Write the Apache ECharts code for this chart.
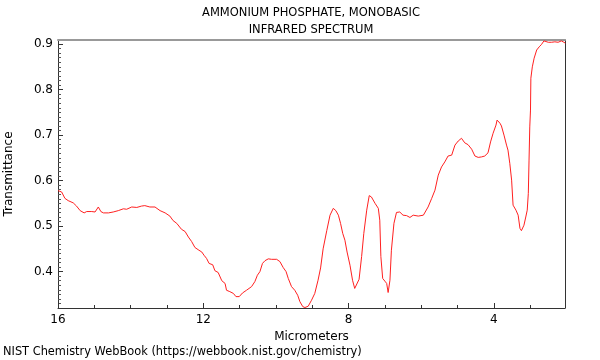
<!DOCTYPE html>
<html><head><meta charset="utf-8">
<script src="https://cdn.jsdelivr.net/npm/echarts@6/dist/echarts.min.js"></script>
<style>html,body{margin:0;padding:0;background:#fff}#c{width:600px;height:360px}</style>
</head><body><div id="c"></div>
<script>
const wavelength = [16.00,15.90,15.81,15.72,15.58,15.49,15.39,15.28,15.21,15.07,14.98,14.94,14.89,14.82,14.75,14.61,14.48,14.34,14.20,14.11,13.97,13.83,13.70,13.61,13.47,13.33,13.19,13.05,12.92,12.83,12.73,12.60,12.50,12.41,12.32,12.23,12.12,12.04,11.98,11.91,11.84,11.74,11.68,11.59,11.49,11.40,11.36,11.27,11.17,11.10,11.01,10.92,10.81,10.67,10.58,10.51,10.44,10.37,10.30,10.21,10.12,9.98,9.89,9.80,9.72,9.66,9.57,9.48,9.40,9.34,9.26,9.20,9.11,9.02,8.93,8.84,8.77,8.70,8.60,8.51,8.42,8.35,8.28,8.22,8.16,8.10,8.04,7.96,7.89,7.83,7.78,7.71,7.64,7.58,7.50,7.43,7.37,7.27,7.18,7.14,7.11,7.06,7.00,6.95,6.91,6.86,6.82,6.75,6.68,6.63,6.59,6.50,6.40,6.31,6.22,6.08,5.94,5.90,5.81,5.71,5.62,5.53,5.44,5.35,5.26,5.16,5.07,4.98,4.89,4.80,4.71,4.61,4.52,4.43,4.34,4.25,4.16,4.09,4.02,3.94,3.91,3.83,3.79,3.72,3.65,3.61,3.56,3.51,3.47,3.39,3.33,3.28,3.24,3.17,3.12,3.08,3.05,3.03,3.01,2.99,2.98,2.94,2.89,2.82,2.75,2.69,2.62,2.58,2.50,2.41,2.32,2.23,2.14,2.07,2.03];
const transmittance = [0.578,0.575,0.561,0.556,0.551,0.544,0.534,0.529,0.532,0.532,0.531,0.535,0.542,0.532,0.529,0.529,0.531,0.534,0.538,0.537,0.542,0.541,0.544,0.545,0.542,0.542,0.534,0.529,0.522,0.512,0.506,0.493,0.488,0.476,0.466,0.453,0.447,0.443,0.436,0.429,0.418,0.415,0.402,0.398,0.380,0.374,0.359,0.356,0.352,0.345,0.345,0.353,0.359,0.367,0.378,0.392,0.400,0.418,0.424,0.428,0.427,0.427,0.422,0.409,0.400,0.385,0.367,0.359,0.348,0.334,0.323,0.321,0.324,0.337,0.352,0.381,0.408,0.450,0.490,0.524,0.539,0.534,0.524,0.506,0.484,0.469,0.443,0.414,0.381,0.363,0.367,0.383,0.433,0.484,0.535,0.567,0.564,0.550,0.539,0.513,0.433,0.385,0.379,0.374,0.354,0.381,0.447,0.506,0.530,0.528,0.531,0.524,0.523,0.519,0.524,0.522,0.524,0.528,0.542,0.561,0.579,0.612,0.630,0.641,0.654,0.656,0.678,0.687,0.693,0.683,0.679,0.669,0.654,0.651,0.652,0.654,0.661,0.685,0.704,0.722,0.733,0.726,0.720,0.700,0.678,0.667,0.638,0.601,0.546,0.535,0.524,0.495,0.490,0.502,0.520,0.535,0.572,0.645,0.718,0.755,0.825,0.850,0.869,0.887,0.894,0.899,0.907,0.908,0.904,0.904,0.905,0.904,0.907,0.904,0.902];
const xMajorTicks = [16,12,8,4];
const xMinorTicks = [15,14,13,11,10,9,7,6,5,3];
const yMajorTicks = [0.4,0.5,0.6,0.7,0.8,0.9];
const yMinorTicks = [];
for (let i = 33; i <= 90; i++) { if (i % 10) yMinorTicks.push(i / 100); }

const FONT = 'DejaVu Sans';
const X_MIN = 2.04, X_MAX = 16, Y_MIN = 0.320, Y_MAX = 0.909;
const chart = echarts.init(document.getElementById('c'), null, {renderer: 'canvas'});
const baseX = {type: 'value', min: X_MIN, max: X_MAX, inverse: true, splitLine: {show: false}};
const baseY = {type: 'value', min: Y_MIN, max: Y_MAX, splitLine: {show: false}};
chart.setOption({
  animation: false,
  backgroundColor: '#fff',
  title: [{
    text: 'AMMONIUM PHOSPHATE, MONOBASIC\nINFRARED SPECTRUM',
    left: 311, top: 5, textAlign: 'center', padding: 0,
    textStyle: {fontFamily: FONT, fontSize: 11.5, fontWeight: 'normal', color: '#000', lineHeight: 17}
  }, {
    text: 'NIST Chemistry WebBook (https://webbook.nist.gov/chemistry)',
    left: 3, top: 345, padding: 0,
    textStyle: {fontFamily: FONT, fontSize: 11.4, fontWeight: 'normal', color: '#000', lineHeight: 14}
  }],
  grid: {left: 58, right: 35, top: 40, bottom: 52, containLabel: false, outerBoundsMode: 'none'},
  xAxis: [
    Object.assign({}, baseX, {
      position: 'bottom',
      name: 'Micrometers', nameLocation: 'middle', nameGap: 18,
      nameTextStyle: {fontFamily: FONT, fontSize: 12, color: '#000'},
      axisLine: {lineStyle: {color: '#333', width: 1}},
      axisTick: {inside: true, length: 5, customValues: xMajorTicks, lineStyle: {color: '#333'}},
      axisLabel: {customValues: xMajorTicks, margin: 6, fontFamily: FONT, fontSize: 12, color: '#000'}
    }),
    Object.assign({}, baseX, {
      position: 'bottom',
      axisLine: {show: false},
      axisTick: {inside: true, length: 3, customValues: xMinorTicks, lineStyle: {color: '#333'}},
      axisLabel: {show: false}
    }),
    Object.assign({}, baseX, {
      position: 'top',
      axisLine: {lineStyle: {color: '#999', width: 2}},
      axisTick: {show: false}, axisLabel: {show: false}
    })
  ],
  yAxis: [
    Object.assign({}, baseY, {
      position: 'left',
      name: 'Transmittance', nameLocation: 'middle', nameGap: 43,
      nameTextStyle: {fontFamily: FONT, fontSize: 12, color: '#000'},
      axisLine: {show: true, lineStyle: {color: '#333', width: 1}},
      axisTick: {show: true, inside: true, length: 5, customValues: yMajorTicks, lineStyle: {color: '#333'}},
      axisLabel: {customValues: yMajorTicks, margin: 5, fontFamily: FONT, fontSize: 12, color: '#000',
        formatter: v => v.toFixed(1)}
    }),
    Object.assign({}, baseY, {
      position: 'left',
      axisLine: {show: false},
      axisTick: {show: true, inside: true, length: 3, customValues: yMinorTicks, lineStyle: {color: '#555'}},
      axisLabel: {show: false}
    }),
    Object.assign({}, baseY, {
      position: 'right',
      axisLine: {show: true, lineStyle: {color: '#333', width: 1}},
      axisTick: {show: false}, axisLabel: {show: false}
    })
  ],
  series: [{
    type: 'line',
    xAxisIndex: 0, yAxisIndex: 0,
    data: wavelength.map((w, i) => [w, transmittance[i]]),
    showSymbol: false, symbol: 'none',
    lineStyle: {color: '#ff2020', width: 1},
    clip: true
  }]
});
</script></body></html>
